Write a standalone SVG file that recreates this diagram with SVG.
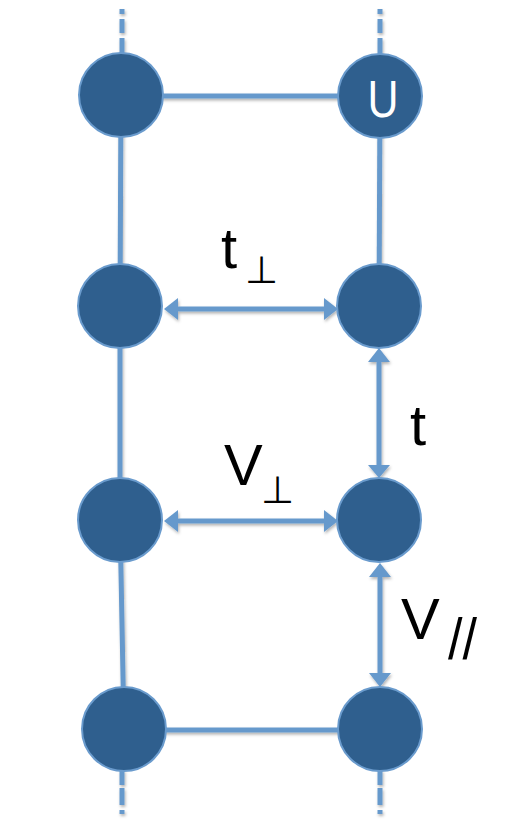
<svg xmlns="http://www.w3.org/2000/svg" width="520" height="829" viewBox="0 0 520 829">
<style>
.ln{stroke:#6699cc;stroke-width:5;fill:none}
.dash{stroke:#6699cc;stroke-width:5;fill:none}
.node{fill:#2f5f8e;stroke:#6a9bcd;stroke-width:2}
.lbl{font-family:"Liberation Sans",Arial,sans-serif;fill:#000}
.ah{fill:#6699cc}
</style>
<defs>
<filter id="sh" x="-20%" y="-20%" width="140%" height="140%">
<feDropShadow dx="1" dy="2" stdDeviation="1.5" flood-color="#000" flood-opacity="0.3"/>
</filter>
</defs>
<g id="connectors" filter="url(#sh)">
<path class="dash" d="M122 9V14M122 19V33M122 38V55"/>
<path class="dash" d="M380 9V14M380 19V33M380 38V55"/>
<path class="dash" d="M122 770V785M122 788V805M122 810V814"/>
<path class="dash" d="M380 770V785M380 788V805M380 810V814"/>
<path class="ln" d="M121 95L120 306L120 520L124 729"/>
<path class="ln" d="M380 96L379 306"/>
<path class="ln" d="M121 96H380"/>
<path class="ln" d="M124 730H380"/>
<path class="ln" d="M176 309H326"/>
<path class="ah" d="M164 309L178 298V320Z"/>
<path class="ah" d="M338 309L324 298V320Z"/>
<path class="ln" d="M176 521H326"/>
<path class="ah" d="M164 521L178 510V532Z"/>
<path class="ah" d="M338 521L324 510V532Z"/>
<path class="ln" d="M379 360V468"/>
<path class="ah" d="M379 348L368 362H390Z"/>
<path class="ah" d="M379 478L368 465H390Z"/>
<path class="ln" d="M380 575V675"/>
<path class="ah" d="M380 563L369 577H391Z"/>
<path class="ah" d="M380 687L369 673H391Z"/>
</g>
<g id="n1"><circle class="node" cx="121" cy="95" r="42"/></g>
<g id="n2"><circle class="node" cx="380" cy="96" r="42"/><text class="lbl" x="383" y="117" font-size="52" style="fill:#fff" text-anchor="middle" textLength="31" lengthAdjust="spacingAndGlyphs">U</text></g>
<g id="n3"><circle class="node" cx="120" cy="306" r="42"/></g>
<g id="n4"><circle class="node" cx="379" cy="306" r="42"/></g>
<g id="n5"><circle class="node" cx="120" cy="520" r="42"/></g>
<g id="n6"><circle class="node" cx="379" cy="520" r="42"/></g>
<g id="n7"><circle class="node" cx="124" cy="729" r="42"/></g>
<g id="n8"><circle class="node" cx="380" cy="729" r="42"/></g>
<g id="labels">
<text class="lbl" x="221" y="268" font-size="58">t</text>
<text class="lbl" x="245" y="283" font-size="38">⊥</text>
<text class="lbl" x="224" y="485" font-size="58">V</text>
<text class="lbl" x="261" y="503" font-size="38">⊥</text>
<text class="lbl" x="410" y="445" font-size="58">t</text>
<text class="lbl" x="401" y="639" font-size="58">V</text>
<text class="lbl" x="448" y="659" font-size="58" textLength="29" lengthAdjust="spacingAndGlyphs">//</text>
</g>
</svg>
